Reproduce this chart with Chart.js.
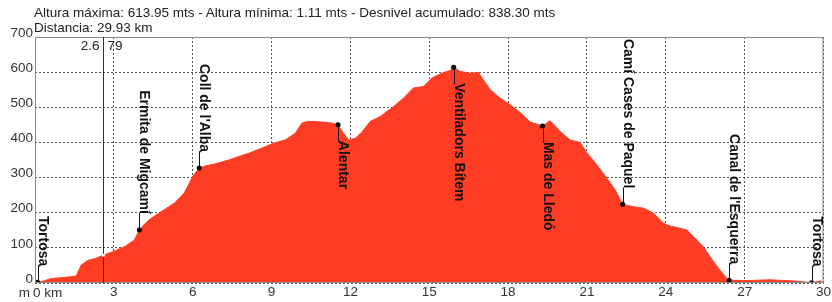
<!DOCTYPE html>
<html>
<head>
<meta charset="utf-8">
<script src="https://cdn.jsdelivr.net/npm/chart.js@4.4.1/dist/chart.umd.min.js"></script>
<style>
  html, body { margin: 0; padding: 0; background: #fff; }
  #wrap { position: relative; width: 832px; height: 302px; }
  canvas { position: absolute; left: 0; top: 0; }
  .hdr { position: absolute; left: 34px; font: 13.5px "Liberation Sans", Arial, sans-serif; color: #222; white-space: nowrap; line-height: 15px; }
</style>
</head>
<body>
<div id="wrap">
  <canvas id="profileChart" width="832" height="302"></canvas>
  <div class="hdr" style="top:5px">Altura máxima: 613.95 mts - Altura mínima: 1.11 mts - Desnivel acumulado: 838.30 mts</div>
  <div class="hdr" style="top:20px">Distancia: 29.93 km</div>
</div>
<script>
// Elevation profile (km, m)
const distanceKm = [0.0, 0.1, 0.35, 0.62, 1.0, 1.38, 1.57, 1.76, 2.0, 2.3, 2.6, 2.96, 3.4, 3.78, 3.97,
  4.2, 4.42, 4.8, 5.3, 5.68, 6.0, 6.25, 6.48, 6.86, 7.37, 7.75, 8.13, 8.64, 9.08, 9.52, 9.9,
  10.16, 10.41, 10.92, 11.3, 11.53, 11.74, 11.93, 12.19, 12.44, 12.76, 13.14, 13.64, 14.02, 14.4,
  14.78, 15.1, 15.48, 15.8, 15.93, 16.18, 16.56, 16.87, 17.06, 17.32, 17.7, 18.08, 18.46, 18.84,
  19.31, 19.6, 19.98, 20.36, 20.74, 21.0, 21.38, 21.76, 22.07, 22.36, 22.77, 23.15, 23.53, 23.91,
  24.16, 24.42, 24.8, 25.05, 25.43, 25.68, 26.0, 26.32, 26.41, 27.08, 27.97, 28.85, 29.55, 29.93];
const elevationM = [1, 2, 6, 13, 15, 18, 20, 51, 64, 70, 79, 89, 103, 122, 151,
  170, 184, 203, 227, 256, 303, 327, 333, 339, 350, 360, 369, 384, 398, 407, 426,
  455, 460, 458, 455, 450, 426, 407, 412, 430, 460, 474, 502, 526, 555,
  559, 583, 597, 605, 614, 602, 597, 599, 578, 550, 526, 507, 485, 458,
  447, 462, 431, 407, 400, 370, 336, 298, 265, 224, 217, 213, 199, 170,
  162, 158, 151, 132, 103, 75, 42, 13, 8, 7, 9, 6, 1, 6];

// Waypoints
const waypointNames = ['Tortosa', 'Ermita de Migcamí', "Coll de l'Alba", 'Alentar', 'Ventiladors Bítem',
  'Mas de Lledó', 'Camí Cases de Paquel', "Canal de l'Esquerra", 'Tortosa'];
const waypointKm = [0.1, 3.97, 6.25, 11.53, 15.93, 19.31, 22.36, 26.41, 29.55];
const waypointElev = [2, 151, 327, 450, 614, 447, 224, 8, 1];
const waypointSide = ['up', 'up', 'up', 'down', 'down', 'down', 'up', 'up', 'up'];

// Cursor
const cursorKm = 2.6;
const cursorElev = 79;

const FILL = 'rgb(255, 60, 36)';
const FONT = '"Liberation Sans", Arial, sans-serif';

const profilePoints = distanceKm.map((d, i) => ({ x: d, y: elevationM[i] }));
const waypointPoints = waypointKm.map((d, i) => ({ x: d, y: waypointElev[i] }));

// frame, cursor, waypoint labels and axis units
const profileDecor = {
  id: 'profileDecor',
  afterDraw(chart) {
    const { ctx, chartArea: a, scales: { x, y } } = chart;
    ctx.save();

    ctx.strokeStyle = '#8a8a8a';
    ctx.lineWidth = 1;
    ctx.strokeRect(a.left + 0.5, a.top + 0.5, a.right - a.left - 1, a.bottom - a.top - 1);

    // cursor line
    const cx = Math.round(x.getPixelForValue(cursorKm)) + 0.5;
    ctx.strokeStyle = '#333';
    ctx.beginPath();
    ctx.moveTo(cx, a.top);
    ctx.lineTo(cx, a.bottom);
    ctx.stroke();
    ctx.fillStyle = '#fff';
    ctx.beginPath();
    ctx.arc(cx, y.getPixelForValue(cursorElev), 1.5, 0, Math.PI * 2);
    ctx.fill();
    ctx.fillStyle = '#222';
    ctx.font = '13.5px ' + FONT;
    ctx.textBaseline = 'middle';
    ctx.textAlign = 'right';
    ctx.fillText(String(cursorKm), cx - 4, a.top + 9);
    ctx.textAlign = 'left';
    ctx.fillText(String(cursorElev), cx + 4, a.top + 9);

    // axis units
    ctx.fillStyle = '#333';
    ctx.textAlign = 'right';
    ctx.fillText('m', 30, a.bottom + 10);
    ctx.textAlign = 'left';
    ctx.fillText('0 km', x.getPixelForValue(0) - 2, a.bottom + 10);

    // waypoint stems and rotated names
    ctx.font = 'bold 14px ' + FONT;
    ctx.textBaseline = 'alphabetic';
    waypointNames.forEach((name, i) => {
      const px = Math.round(x.getPixelForValue(waypointKm[i])) + 0.5;
      const py = y.getPixelForValue(waypointElev[i]);
      const dir = waypointSide[i] === 'up' ? -1 : 1;
      ctx.strokeStyle = '#111';
      ctx.beginPath();
      ctx.moveTo(px, py);
      ctx.lineTo(px, py + dir * 17);
      ctx.stroke();
      ctx.save();
      ctx.translate(px, py);
      ctx.rotate(Math.PI / 2);
      ctx.fillStyle = '#111';
      ctx.textAlign = dir < 0 ? 'right' : 'left';
      ctx.fillText(name, dir * 16, 0);
      ctx.restore();
    });
    ctx.restore();
  }
};

new Chart(document.getElementById('profileChart'), {
  type: 'line',
  data: {
    datasets: [
      {
        data: waypointPoints,
        showLine: false,
        pointRadius: 2.5,
        pointBackgroundColor: '#000',
        pointBorderWidth: 0,
        order: 0
      },
      {
        data: profilePoints,
        fill: 'origin',
        backgroundColor: FILL,
        borderColor: FILL,
        borderWidth: 1,
        pointRadius: 0,
        tension: 0,
        order: 1
      }
    ]
  },
  options: {
    responsive: false,
    animation: false,
    layout: { padding: { top: 37, right: 8, left: 0, bottom: 0 } },
    plugins: { legend: { display: false }, tooltip: { enabled: false } },
    scales: {
      x: {
        type: 'linear',
        min: 0,
        max: 30,
        z: 1,
        afterFit(s) { s.height = 19; },
        ticks: {
          stepSize: 3,
          padding: 1,
          color: '#333',
          font: { family: FONT, size: 13.5 },
          maxRotation: 0,
          callback: v => (v === 0 ? '' : v)
        },
        grid: { color: '#555', drawTicks: false, lineWidth: 1 },
        border: { display: false, dash: [2, 2] }
      },
      y: {
        min: 0,
        max: 700,
        z: 1,
        afterFit(s) { s.width = 35; },
        ticks: {
          stepSize: 100,
          padding: 2,
          labelOffset: -4,
          color: '#333',
          font: { family: FONT, size: 13.5 }
        },
        grid: { color: '#555', drawTicks: false, lineWidth: 1 },
        border: { display: false, dash: [2, 2] }
      }
    }
  },
  plugins: [profileDecor]
});
</script>
</body>
</html>
